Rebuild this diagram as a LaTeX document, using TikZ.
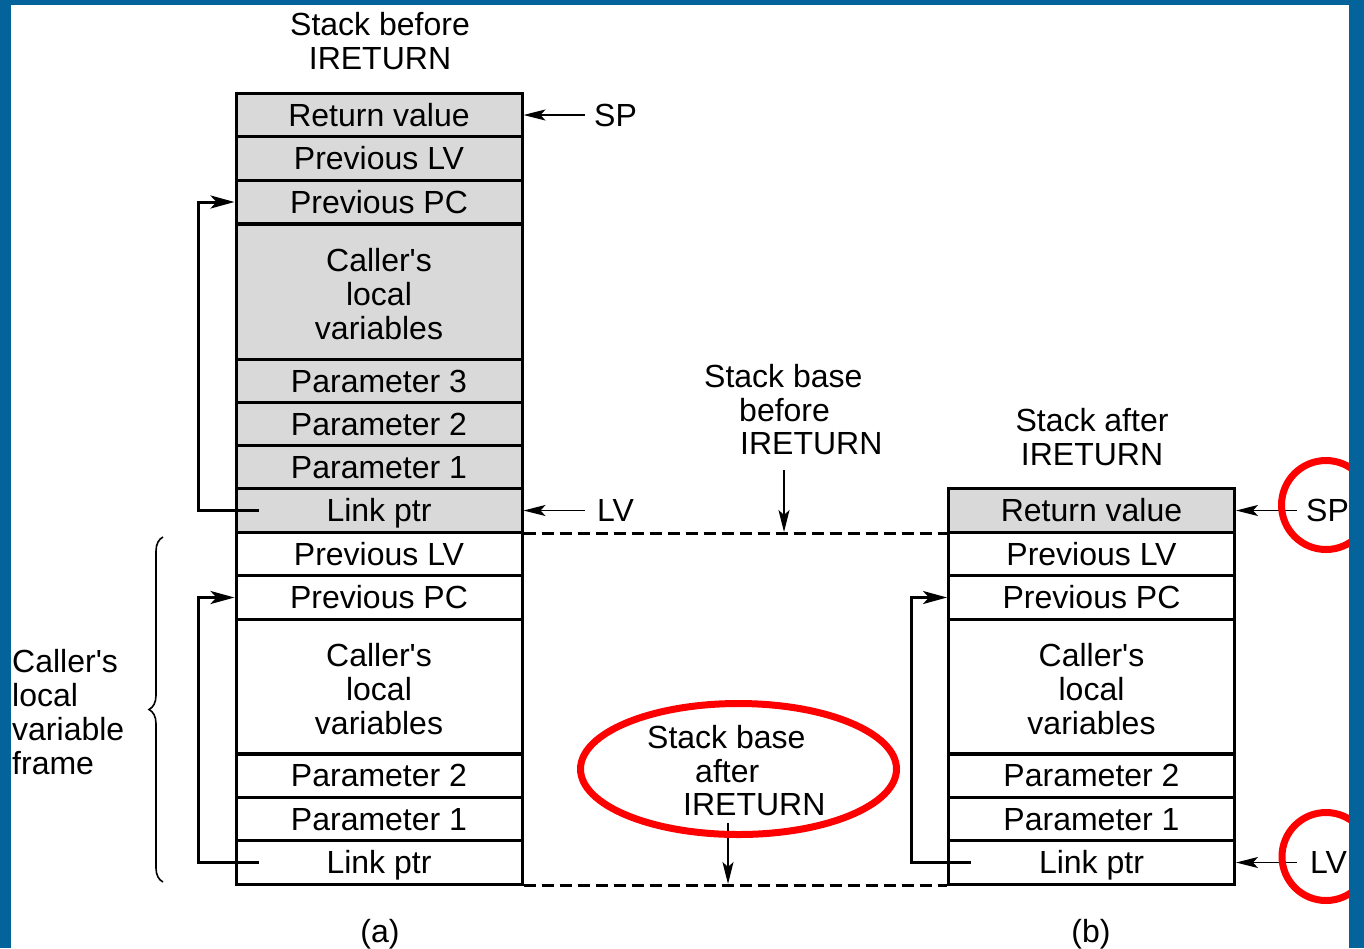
\documentclass[tikz,border=0pt]{standalone}
\usepackage{fontspec}
\setmainfont{Liberation Sans}
\usetikzlibrary{arrows.meta,decorations.pathreplacing,calc}
\definecolor{frameblue}{HTML}{03639A}
\definecolor{cellgray}{HTML}{D9D9D9}
\definecolor{markred}{HTML}{FF0000}
\newcommand{\callers}{\rule{0pt}{29pt}Caller\textquotesingle s}
\begin{document}
\begin{tikzpicture}[x=1pt,y=-1pt,
  every node/.style={font=\fontsize{32}{34}\selectfont, inner sep=0pt},
  cell/.style={draw, line width=3pt, minimum width=286pt, minimum height=43.5pt, text height=22pt, text depth=0pt},
  bigcell/.style={draw, line width=3pt, minimum width=286pt, minimum height=135pt, align=center},
  shaded/.style={fill=cellgray},
  lbl/.style={text height=22pt, text depth=0pt},
  ptr/.style={line width=1.5pt, -{Stealth[length=22pt,width=11pt,inset=5pt]}},
  link/.style={line width=3pt, -{Stealth[length=24pt,width=13pt,inset=6pt]}},
  basedash/.style={line width=2.8pt, dash pattern=on 12pt off 6pt},
  redmark/.style={draw=markred, line width=7pt},
  bracestyle/.style={line width=1.6pt, decorate, decoration={brace, amplitude=14pt}}
]
\useasboundingbox (0,0) rectangle (1364,948);
\fill[white] (0,0) rectangle (1364,948);

% left stack (a)
\node[cell,shaded] (l1) at (379,115) {Return value};
\node[cell,shaded] (l2) at (379,158.5) {Previous LV};
\node[cell,shaded] (l3) at (379,202) {Previous PC};
\node[bigcell,shaded] (l4) at (379,291.5) {\callers\\local\\variables};
\node[cell,shaded] (l5) at (379,381) {Parameter 3};
\node[cell,shaded] (l6) at (379,424.5) {Parameter 2};
\node[cell,shaded] (l7) at (379,467.5) {Parameter 1};
\node[cell,shaded] (l8) at (379,510.5) {Link ptr};
\node[cell] (l9) at (379,554) {Previous LV};
\node[cell] (l10) at (379,597.5) {Previous PC};
\node[bigcell] (l11) at (379,686.5) {\callers\\local\\variables};
\node[cell] (l12) at (379,775.5) {Parameter 2};
\node[cell] (l13) at (379,819) {Parameter 1};
\node[cell] (l14) at (379,862.5) {Link ptr};

% right stack (b)
\node[cell,shaded] (r1) at (1091.5,510.5) {Return value};
\node[cell] (r2) at (1091.5,554) {Previous LV};
\node[cell] (r3) at (1091.5,597.5) {Previous PC};
\node[bigcell] (r4) at (1091.5,686.5) {\callers\\local\\variables};
\node[cell] (r5) at (1091.5,775.5) {Parameter 2};
\node[cell] (r6) at (1091.5,819) {Parameter 1};
\node[cell] (r7) at (1091.5,862.5) {Link ptr};

% titles
\node[align=center] (ta) at (380,41) {Stack before\\IRETURN};
\node[align=center] (tb) at (1092,437) {Stack after\\IRETURN};
\node[lbl,anchor=west] (sbb1) at (704,376) {Stack base};
\node[lbl,anchor=west] (sbb2) at (739,410) {before};
\node[lbl,anchor=west] (sbb3) at (740,443) {IRETURN};
\node[lbl,anchor=west] (sba1) at (647,737) {Stack base};
\node[lbl,anchor=west] (sba2) at (695,771) {after};
\node[lbl,anchor=west] (sba3) at (683,804) {IRETURN};
\node[align=left,anchor=west] (frame) at (12,712) {Caller\textquotesingle s\\local\\variable\\frame};
\node[lbl] (capa) at (380,931) {(a)};
\node[lbl] (capb) at (1091,931) {(b)};

% pointer labels
\node[lbl,anchor=west] (sp1) at (594,115) {SP};
\node[lbl,anchor=west] (lv1) at (597,510.5) {LV};
\node[lbl,anchor=west] (sp2) at (1306,510.5) {SP};
\node[lbl,anchor=west] (lv2) at (1310,862.5) {LV};
\draw[ptr] ($(sp1.west)+(-9,0)$) -- (l1.east);
\draw[ptr] ($(lv1.west)+(-12,0)$) -- (l8.east);
\draw[ptr] ($(sp2.west)+(-9,0)$) -- (r1.east);
\draw[ptr] ($(lv2.west)+(-13,0)$) -- (r7.east);

% link pointers
\draw[link] ($(l8.west)+(24,0)$) -- ++(-60,0) |- (l3.west);
\draw[link] ($(l14.west)+(24,0)$) -- ++(-60,0) |- (l10.west);
\draw[link] ($(r7.west)+(24,0)$) -- ++(-60,0) |- (r3.west);

% stack bases
\draw[basedash] (l8.south east) -- (r1.south west);
\draw[basedash] (l14.south east) -- (r7.south west);
\coordinate (sbbtip) at (784,532);
\coordinate (sbbtail) at (784,470);
\coordinate (sbatip) at (728,884);
\coordinate (sbatail) at (728,823);
\draw[ptr] (sbbtail) -- (sbbtip);
\draw[ptr] (sbatail) -- (sbatip);

% brace
\draw[bracestyle] (163,882) -- (163,537);

% red highlights
\draw[redmark] (738.5,769) ellipse [x radius=158, y radius=65.5];
\draw[redmark] (1326,505) circle [radius=44.5];
\draw[redmark] (1326,856.5) circle [radius=44];

% frame
\fill[frameblue] (0,0) rectangle (11,948);
\fill[frameblue] (0,0) rectangle (1364,5);
\fill[frameblue] (1349,0) rectangle (1364,948);
\end{tikzpicture}
\end{document}
